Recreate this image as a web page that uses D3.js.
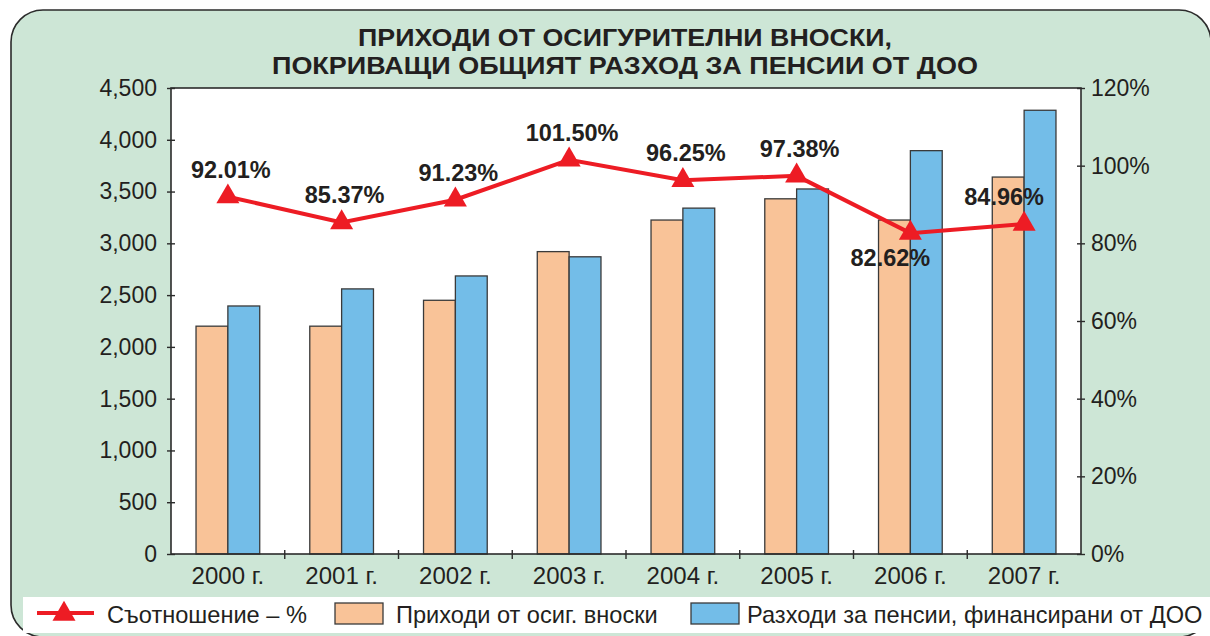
<!DOCTYPE html>
<html>
<head>
<meta charset="utf-8">
<script src="https://cdn.jsdelivr.net/npm/d3@7"></script>
<style>
  html, body { margin: 0; padding: 0; background: #fff; }
  svg { display: block; font-family: "Liberation Sans", Arial, sans-serif; }
  .tick text { fill: #231f20; }
</style>
</head>
<body>
<svg id="chart" width="1210" height="636"></svg>
<script>
/* ===== Data ===== */
const years = ["2000 г.", "2001 г.", "2002 г.", "2003 г.", "2004 г.", "2005 г.", "2006 г.", "2007 г."];
const revenue = [2200, 2200, 2450, 2920, 3225, 3430, 3225, 3640];   // Приходи от осиг. вноски
const expense = [2395, 2560, 2685, 2870, 3340, 3525, 3895, 4285];   // Разходи за пенсии
const ratio = [92.01, 85.37, 91.23, 101.50, 96.25, 97.38, 82.62, 84.96];
const leftTicks = [0, 500, 1000, 1500, 2000, 2500, 3000, 3500, 4000, 4500];
const rightTicks = [0, 20, 40, 60, 80, 100, 120];

const titleLines = ["ПРИХОДИ ОТ ОСИГУРИТЕЛНИ ВНОСКИ,", "ПОКРИВАЩИ ОБЩИЯТ РАЗХОД ЗА ПЕНСИИ ОТ ДОО"];
const legendNames = ["Съотношение – %", "Приходи от осиг. вноски", "Разходи за пенсии, финансирани от ДОО"];

// label placement: default above the point; a couple sit below / left
const labelPlace = ["up", "up", "up", "up", "up", "up", "down", "left"];

/* ===== Colours ===== */
const C = {
  panel: "#cde6d6",
  border: "#2b2b2b",
  orange: "#f9c398",
  blue: "#73bde8",
  red: "#ed1c24",
  text: "#231f20"
};

const svg = d3.select("#chart");
const plot = { left: 171, right: 1081, top: 88, bottom: 554 };

/* ===== Panel ===== */
svg.append("rect")
  .attr("x", 11).attr("y", 10)
  .attr("width", 1200).attr("height", 627)
  .attr("rx", 32).attr("ry", 32)
  .attr("fill", C.panel)
  .attr("stroke", C.border)
  .attr("stroke-width", 1.6);

/* ===== Title ===== */
const titleLen = [534, 706];
svg.append("g").selectAll("text")
  .data(titleLines)
  .join("text")
  .attr("x", 625)
  .attr("y", (d, i) => 46 + i * 28)
  .attr("text-anchor", "middle")
  .attr("font-size", 23)
  .attr("font-weight", "bold")
  .attr("fill", C.text)
  .attr("textLength", (d, i) => titleLen[i])
  .attr("lengthAdjust", "spacingAndGlyphs")
  .text(d => d);

/* ===== Scales ===== */
const x0 = d3.scaleBand()
  .domain(years)
  .range([plot.left, plot.right])
  .paddingInner(0.44)
  .paddingOuter(0.22);

const x1 = d3.scaleBand()
  .domain(["rev", "exp"])
  .range([0, x0.bandwidth()]);

const yL = d3.scaleLinear().domain([0, 4500]).range([plot.bottom, plot.top]);
const yR = d3.scaleLinear().domain([0, 120]).range([plot.bottom, plot.top]);

/* ===== Plot background ===== */
svg.append("rect")
  .attr("x", plot.left).attr("y", plot.top)
  .attr("width", plot.right - plot.left).attr("height", plot.bottom - plot.top)
  .attr("fill", "#fff");

/* ===== Bars ===== */
const groups = svg.append("g")
  .selectAll("g")
  .data(years)
  .join("g")
  .attr("transform", d => `translate(${x0(d)},0)`);

groups.append("rect")
  .attr("x", x1("rev"))
  .attr("y", (d, i) => yL(revenue[i]))
  .attr("width", x1.bandwidth())
  .attr("height", (d, i) => yL(0) - yL(revenue[i]))
  .attr("fill", C.orange)
  .attr("stroke", "#3a3a3a")
  .attr("stroke-width", 1.3);

groups.append("rect")
  .attr("x", x1("exp"))
  .attr("y", (d, i) => yL(expense[i]))
  .attr("width", x1.bandwidth())
  .attr("height", (d, i) => yL(0) - yL(expense[i]))
  .attr("fill", C.blue)
  .attr("stroke", "#3a3a3a")
  .attr("stroke-width", 1.3);

/* ===== Frame ===== */
svg.append("rect")
  .attr("x", plot.left).attr("y", plot.top)
  .attr("width", plot.right - plot.left).attr("height", plot.bottom - plot.top)
  .attr("fill", "none")
  .attr("stroke", C.border)
  .attr("stroke-width", 1.6);

/* ===== Axes ===== */
const axL = svg.append("g")
  .attr("transform", `translate(${plot.left},0)`)
  .call(d3.axisLeft(yL).tickValues(leftTicks).tickFormat(d3.format(",")).tickSize(4).tickPadding(10));
axL.selectAll(".tick line").attr("x1", 4);

const axR = svg.append("g")
  .attr("transform", `translate(${plot.right},0)`)
  .call(d3.axisRight(yR).tickValues(rightTicks).tickFormat(d => d + "%").tickSize(4).tickPadding(6));
axR.selectAll(".tick line").attr("x1", -4);

const axB = svg.append("g")
  .attr("transform", `translate(0,${plot.bottom})`)
  .call(d3.axisBottom(x0).tickSize(0).tickPadding(13));

[axL, axR, axB].forEach(a => {
  a.select(".domain").remove();
  a.selectAll(".tick line").attr("stroke", C.border).attr("stroke-width", 1.4);
  a.selectAll("text").attr("font-size", 23).attr("fill", C.text)
    .attr("font-family", "'Liberation Sans', Arial, sans-serif");
});
axB.selectAll("text").attr("font-size", 24);

// category boundary ticks
const bounds = years.slice(1).map(d => x0(d) - (x0.step() - x0.bandwidth()) / 2);
svg.append("g").selectAll("line")
  .data(bounds)
  .join("line")
  .attr("x1", d => d).attr("x2", d => d)
  .attr("y1", plot.bottom - 4).attr("y2", plot.bottom + 5)
  .attr("stroke", C.border)
  .attr("stroke-width", 1.4);

/* ===== Ratio line ===== */
const cx = i => x0(years[i]) + x0.bandwidth() / 2;
const line = d3.line()
  .x((d, i) => cx(i))
  .y(d => yR(d));

svg.append("path")
  .datum(ratio)
  .attr("d", line)
  .attr("fill", "none")
  .attr("stroke", C.red)
  .attr("stroke-width", 4);

const tri = d3.symbol().type(d3.symbolTriangle).size(230);
svg.append("g").selectAll("path")
  .data(ratio)
  .join("path")
  .attr("transform", (d, i) => `translate(${cx(i)},${yR(d)})`)
  .attr("d", tri)
  .attr("fill", C.red);

svg.append("g").selectAll("text")
  .data(ratio)
  .join("text")
  .attr("x", (d, i) => cx(i) + (labelPlace[i] === "up" ? 3 : -20))
  .attr("y", (d, i) => yR(d) + (labelPlace[i] === "down" ? 33 : -19))
  .attr("text-anchor", "middle")
  .attr("font-size", 23.5)
  .attr("font-weight", "bold")
  .attr("fill", C.text)
  .text(d => d.toFixed(2) + "%");

/* ===== Legend ===== */
const lg = svg.append("g");
lg.append("rect")
  .attr("x", 23).attr("y", 597)
  .attr("width", 1200).attr("height", 36)
  .attr("fill", "#fff");

lg.append("line")
  .attr("x1", 37).attr("x2", 94)
  .attr("y1", 613).attr("y2", 613)
  .attr("stroke", C.red).attr("stroke-width", 4);
lg.append("path")
  .attr("transform", "translate(64,614)")
  .attr("d", tri)
  .attr("fill", C.red);

const boxX = [335, 691];
const boxFill = [C.orange, C.blue];
boxX.forEach((bx, i) => {
  lg.append("rect")
    .attr("x", bx).attr("y", 603)
    .attr("width", 48).attr("height", 21)
    .attr("fill", boxFill[i])
    .attr("stroke", "#3a3a3a")
    .attr("stroke-width", 1.3);
});

const textX = [107, 396, 747];
lg.selectAll("text")
  .data(legendNames)
  .join("text")
  .attr("x", (d, i) => textX[i])
  .attr("y", 623)
  .attr("font-size", 23.6)
  .attr("fill", C.text)
  .text(d => d);
</script>
</body>
</html>
